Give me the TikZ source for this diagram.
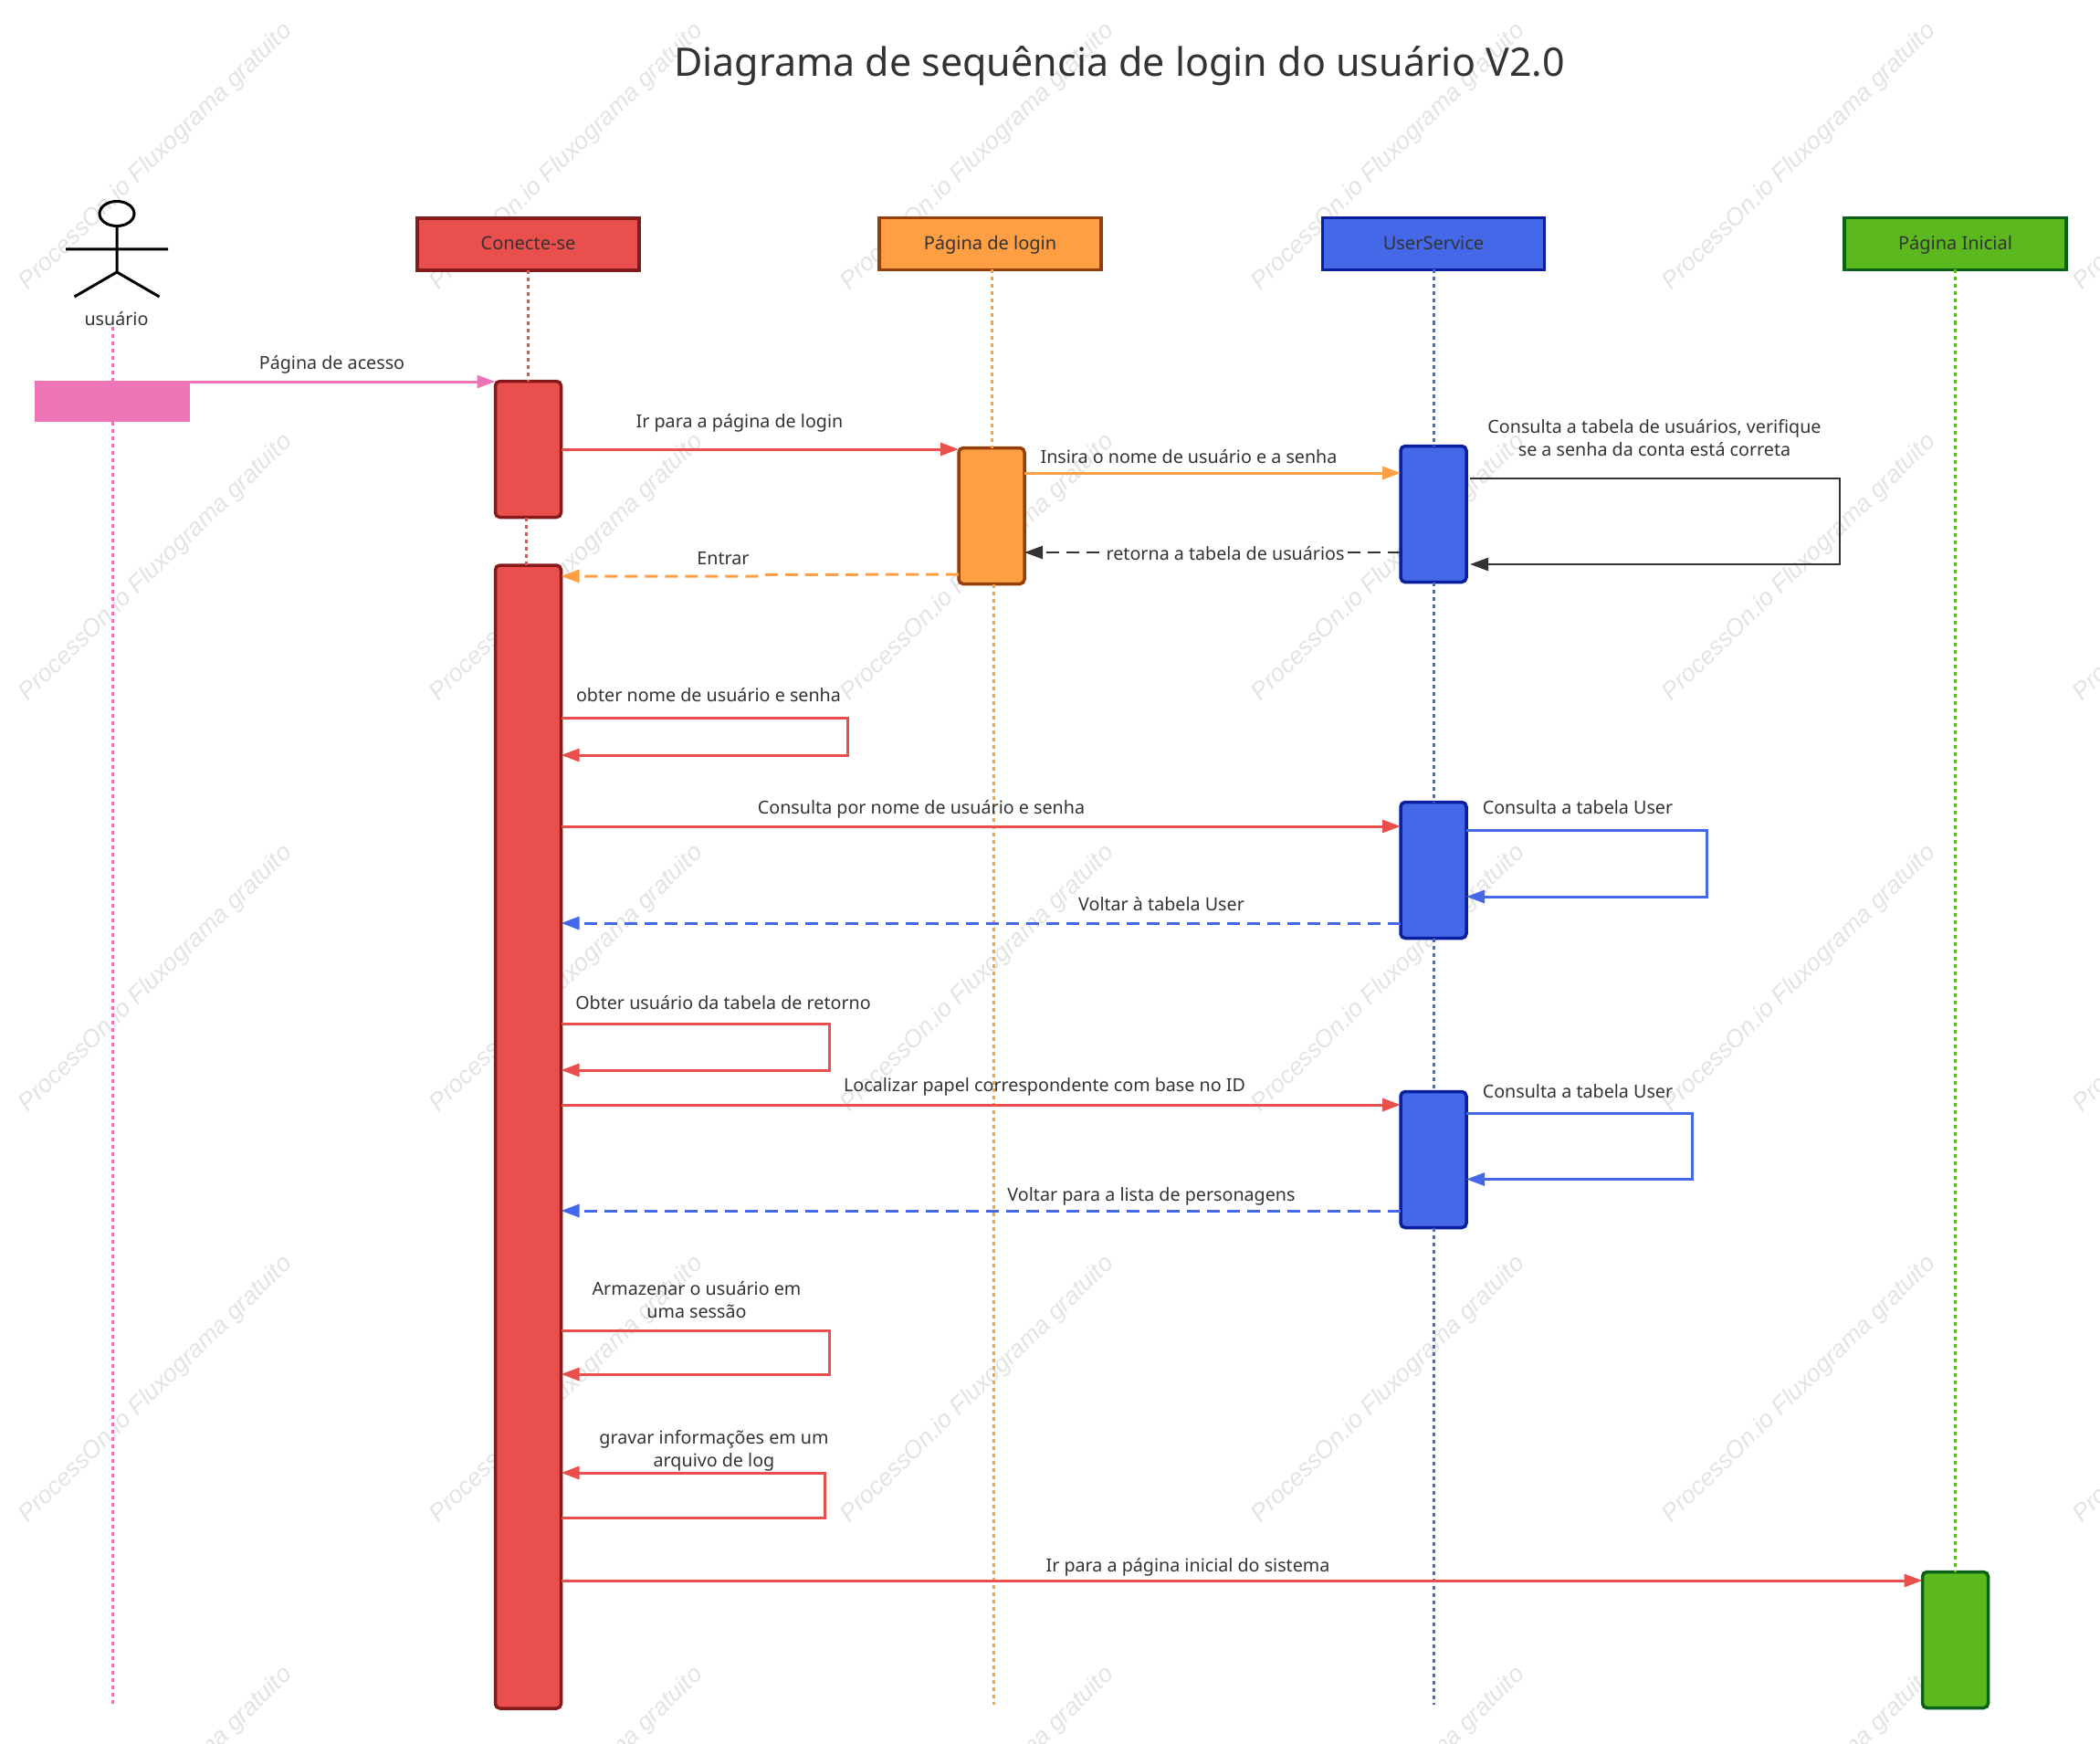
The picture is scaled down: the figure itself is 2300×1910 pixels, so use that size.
\documentclass[tikz,border=0pt]{standalone}
\usepackage{fontspec}
\setmainfont{Noto Sans}
\newfontfamily\markfont{Liberation Sans}
\usetikzlibrary{arrows.meta}
\definecolor{redfill}{HTML}{E94F4D}
\definecolor{reddraw}{HTML}{861A1A}
\definecolor{orangefill}{HTML}{FF9F43}
\definecolor{orangedraw}{HTML}{963E08}
\definecolor{bluefill}{HTML}{4468E8}
\definecolor{bluedraw}{HTML}{0A1EA0}
\definecolor{greenfill}{HTML}{5BB81E}
\definecolor{greendraw}{HTML}{0B6118}
\definecolor{pinkfill}{HTML}{EE75B5}
\definecolor{darkline}{HTML}{333333}
\begin{document}
\begin{tikzpicture}
  [x=1pt, y=-1pt,
   head/.style={draw, line width=3.3pt, outer sep=0pt, minimum width=243pt, minimum height=57pt, inner sep=0pt,
                text=darkline, text height=17pt, text depth=4pt, font=\fontsize{20pt}{25pt}\selectfont},
   bar/.style={draw, line width=3.5pt, outer sep=0pt, rounded corners=5pt, minimum width=72pt, minimum height=149pt, inner sep=0pt},
   life/.style={line width=3pt, dash pattern=on 4pt off 4pt},
   msg/.style={line width=3pt, -{Triangle[length=20pt,width=14pt]}},
   back/.style={msg, dash pattern=on 14pt off 8pt},
   loopmsg/.style={msg, line width=2.5pt, shorten >=4pt, shorten <=4pt},
   lbl/.style={text=darkline, inner sep=1pt, text height=20pt, text depth=4pt, font=\fontsize{19.7pt}{25pt}\selectfont},
   lbltwo/.style={text=darkline, inner sep=1pt, align=center, font=\fontsize{19.7pt}{25pt}\selectfont},
   watermark/.style={rotate=44.3, text=black!11, inner sep=0pt, font=\markfont\itshape\fontsize{26.7pt}{30pt}\selectfont}]

  \clip (0,0) rectangle (2300,1910);
  \useasboundingbox (0,0) rectangle (2300,1910);

  \foreach \wx in {171,621,1071,1521,1971,2421}
    \foreach \wy in {172,622,1072,1522,1972}
      \node[watermark] (w\wx-\wy) at (\wx,\wy) {ProcessOn.io Fluxograma gratuito};

  \node[text=darkline, inner sep=0pt, font=\fontsize{43pt}{50pt}\selectfont] (title) at (1226,72)
    {Diagrama de sequência de login do usuário V2.0};

  \draw[line width=3pt] (128,234) ellipse [x radius=19, y radius=13.5];
  \draw[line width=3pt] (128,247.5) -- (128,298) -- (81.5,325)
                        (128,298) -- (174.5,325)
                        (72,273) -- (184,273);
  \node[lbl] (actor) at (127.5,348) {usuário};

  \node[head, fill=redfill, draw=reddraw] (login) at (578.5,267.5) {Conecte-se};
  \node[head, fill=orangefill, draw=orangedraw] (page) at (1084.5,267) {Página de login};
  \node[head, fill=bluefill, draw=bluedraw] (service) at (1570,267) {UserService};
  \node[head, fill=greenfill, draw=greendraw] (home) at (2141.5,267) {Página Inicial};

  \node[fill=pinkfill, minimum width=170pt, minimum height=45pt, inner sep=0pt] (user1) at (123,439.5) {};
  \node[bar, fill=redfill, draw=reddraw] (login1) at (578.5,492) {};
  \node[bar, fill=redfill, draw=reddraw, minimum height=1252pt] (login2) at (578.5,1245) {};
  \node[bar, fill=orangefill, draw=orangedraw] (page1) at (1086,565) {};
  \node[bar, fill=bluefill, draw=bluedraw] (service1) at (1570,563) {};
  \node[bar, fill=bluefill, draw=bluedraw] (service2) at (1570,953) {};
  \node[bar, fill=bluefill, draw=bluedraw] (service3) at (1570,1270) {};
  \node[bar, fill=greenfill, draw=greendraw] (home1) at (2141.5,1796) {};

  \coordinate (userend) at (123,1867);
  \coordinate (pageend) at (1088,1867);
  \coordinate (serviceend) at (1570,1867);

  \draw[life, pinkfill] (user1.north |- 0,358) -- (user1.north);
  \draw[life, pinkfill] (user1.south) -- (userend);
  \draw[life, redfill] (login.south) -- (login1.north);
  \draw[life, redfill] ([xshift=-2pt]login1.south) -- ([xshift=-2pt]login2.north);
  \draw[life, orangefill] (page1.north |- page.south) -- (page1.north);
  \draw[life, orangefill] ([xshift=2pt]page1.south) -- (pageend);
  \draw[life, bluefill] (service.south) -- (service1.north);
  \draw[life, bluefill] (service1.south) -- (service2.north);
  \draw[life, bluefill] (service2.south) -- (service3.north);
  \draw[life, bluefill] (service3.south) -- (serviceend);
  \draw[life, greenfill] (home.south) -- (home1.north);

  \draw[msg, pinkfill] (user1.east |- 0,418) -- (login1.west |- 0,418);
  \node[lbl] (m1) at (363.5,396) {Página de acesso};

  \draw[msg, redfill] (login1.east |- 0,492) -- (page1.west |- 0,492);
  \node[lbl] (m2) at (810,460.5) {Ir para a página de login};

  \draw[msg, orangefill] (page1.east |- 0,518) -- (service1.west |- 0,518);
  \node[lbl] (m3) at (1302,499) {Insira o nome de usuário e a senha};

  \draw[loopmsg, darkline] (service1.east |- 0,524) -- (2015,524) -- (2015,618) -- (service1.east |- 0,618);
  \node[lbltwo] (m4) at (1812,480) {Consulta a tabela de usuários, verifique\\se a senha da conta está correta};

  \draw[back, darkline, line width=2.5pt] (service1.west |- 0,605) -- (page1.east |- 0,605);
  \node[lbl, fill=white, text height=17pt, text depth=4pt] (m5) at (1342,606.5) {retorna a tabela de usuários};

  \draw[back, orangefill] (page1.west |- 0,629) -- (833,629.5) -- (829,631) -- (login2.east |- 0,631);
  \node[lbl] (m6) at (792,610) {Entrar};

  \draw[msg, redfill] (login2.east |- 0,786) -- (928.5,786) -- (928.5,827) -- (login2.east |- 0,827);
  \node[lbl] (m7) at (776,760) {obter nome de usuário e senha};

  \draw[msg, redfill] (login2.east |- 0,905) -- (service2.west |- 0,905);
  \node[lbl] (m8) at (1009,883) {Consulta por nome de usuário e senha};

  \draw[msg, bluefill] (service2.east |- 0,909.5) -- (1869,909.5) -- (1869,982) -- (service2.east |- 0,982);
  \node[lbl] (m9) at (1728,883) {Consulta a tabela User};

  \draw[back, bluefill] (service2.west |- 0,1011) -- (login2.east |- 0,1011);
  \node[lbl] (m10) at (1272,989) {Voltar à tabela User};

  \draw[msg, redfill] (login2.east |- 0,1121) -- (908,1121) -- (908,1172) -- (login2.east |- 0,1172);
  \node[lbl] (m11) at (792,1097) {Obter usuário da tabela de retorno};

  \draw[msg, redfill] (login2.east |- 0,1210) -- (service3.west |- 0,1210);
  \node[lbl] (m12) at (1144,1187) {Localizar papel correspondente com base no ID};

  \draw[msg, bluefill] (service3.east |- 0,1219) -- (1853,1219) -- (1853,1291.5) -- (service3.east |- 0,1291.5);
  \node[lbl] (m13) at (1728,1194) {Consulta a tabela User};

  \draw[back, bluefill] (service3.west |- 0,1326) -- (login2.east |- 0,1326);
  \node[lbl] (m14) at (1261,1307) {Voltar para a lista de personagens};

  \draw[msg, redfill] (login2.east |- 0,1457) -- (908,1457) -- (908,1505) -- (login2.east |- 0,1505);
  \node[lbltwo] (m15) at (763,1423.5) {Armazenar o usuário em\\uma sessão};

  \draw[msg, redfill] (login2.east |- 0,1662) -- (903.5,1662) -- (903.5,1613) -- (login2.east |- 0,1613);
  \node[lbltwo] (m16) at (782,1589) {gravar informações em um\\arquivo de log};

  \draw[msg, redfill] (login2.east |- 0,1731) -- (home1.west |- 0,1731);
  \node[lbl] (m17) at (1301,1713) {Ir para a página inicial do sistema};
\end{tikzpicture}
\end{document}
